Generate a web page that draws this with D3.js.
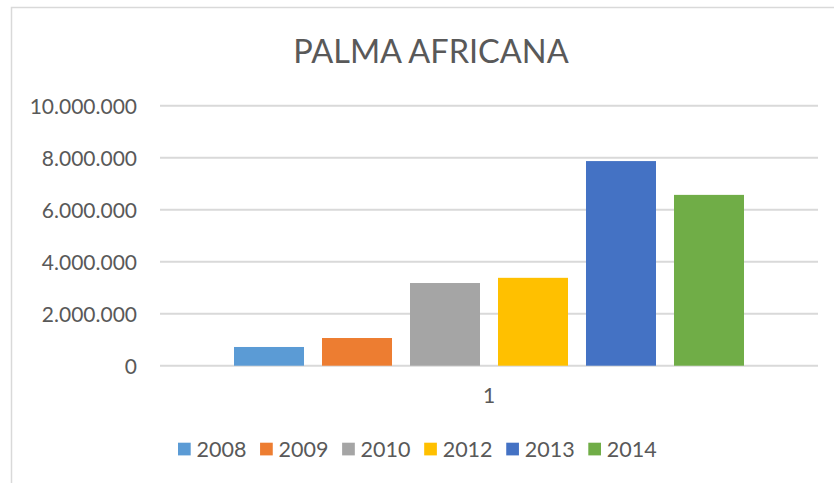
<!DOCTYPE html>
<html>
<head>
<meta charset="utf-8">
<script src="https://cdn.jsdelivr.net/npm/d3@7"></script>
<style>
  html, body { margin: 0; padding: 0; background: #fff; }
  svg { display: block; }
  text { font-family: Lato, "Open Sans", sans-serif; fill: #595959; }
</style>
</head>
<body>
<svg id="chart" width="834" height="483"></svg>
<script>
const categories = ["1"];
const seriesNames = ["2008", "2009", "2010", "2012", "2013", "2014"];
const seriesValues = [720000, 1065000, 3180000, 3380000, 7870000, 6570000];
const seriesColors = ["#5B9BD5", "#ED7D31", "#A5A5A5", "#FFC000", "#4472C4", "#70AD47"];
const yTicks = [0, 2000000, 4000000, 6000000, 8000000, 10000000];
const title = "PALMA AFRICANA";

const W = 834, H = 483;
const svg = d3.select("#chart");

// chart area border
svg.append("rect")
  .attr("x", 11.5).attr("y", 7.5)
  .attr("width", 840).attr("height", 500)
  .attr("fill", "#fff").attr("stroke", "#d9d9d9").attr("stroke-width", 1.5);

const plot = { left: 160, right: 818, top: 105.7, bottom: 365.7 };

const y = d3.scaleLinear().domain([0, 10000000]).range([plot.bottom, plot.top]);
const x0 = d3.scaleBand().domain(categories).range([plot.left, plot.right])
  .paddingInner(0).paddingOuter(0.1231);
const x1 = d3.scaleBand().domain(seriesNames).range([0, x0.bandwidth()])
  .paddingInner(0.2045).paddingOuter(0.1023);

const fmt = v => d3.format(",")(v).replace(/,/g, ".");

// gridlines
svg.append("g").selectAll("line").data(yTicks).join("line")
  .attr("x1", plot.left).attr("x2", plot.right)
  .attr("y1", d => y(d)).attr("y2", d => y(d))
  .attr("stroke", "#d9d9d9").attr("stroke-width", 2);

// y axis labels via d3 axis
const yAxis = d3.axisLeft(y).tickValues(yTicks).tickFormat(fmt).tickSize(0).tickPadding(0);
const gy = svg.append("g").attr("transform", `translate(${137},0)`).call(yAxis);
gy.select(".domain").remove();
gy.selectAll("text").style("font-family", "Lato, sans-serif")
  .style("font-size", "21px").attr("fill", "#595959").attr("dy", "0.36em");

// bars
const data = seriesNames.map((s, i) => ({ s, v: seriesValues[i], c: seriesColors[i] }));
const g = svg.append("g");
categories.forEach(cat => {
  g.selectAll("rect.bar").data(data).join("rect").attr("class", "bar")
    .attr("x", d => x0(cat) + x1(d.s))
    .attr("width", x1.bandwidth())
    .attr("y", d => y(d.v))
    .attr("height", d => y(0) - y(d.v))
    .attr("fill", d => d.c);
});

// x axis label
const xAxis = d3.axisBottom(x0).tickSize(0).tickPadding(0);
const gx = svg.append("g").attr("transform", `translate(0,${plot.bottom})`).call(xAxis);
gx.select(".domain").remove();
gx.selectAll("text").style("font-family", "Lato, sans-serif")
  .style("font-size", "21px").attr("fill", "#595959").attr("y", 37.5).attr("dy", 0);

// title
svg.append("text").attr("x", 431).attr("y", 63.3)
  .attr("text-anchor", "middle").style("font-size", "32.5px").style("font-weight", 400)
  .text(title);

// legend
const legendX = d3.scalePoint().domain(seriesNames).range([178, 588.3]);
const lg = svg.append("g").selectAll("g").data(data).join("g")
  .attr("transform", d => `translate(${legendX(d.s)},442.7)`);
lg.append("rect").attr("width", 12.7).attr("height", 12.7).attr("fill", d => d.c);
lg.append("text").attr("x", 18.5).attr("y", 14.6)
  .style("font-size", "21.5px").text(d => d.s);
</script>
</body>
</html>
